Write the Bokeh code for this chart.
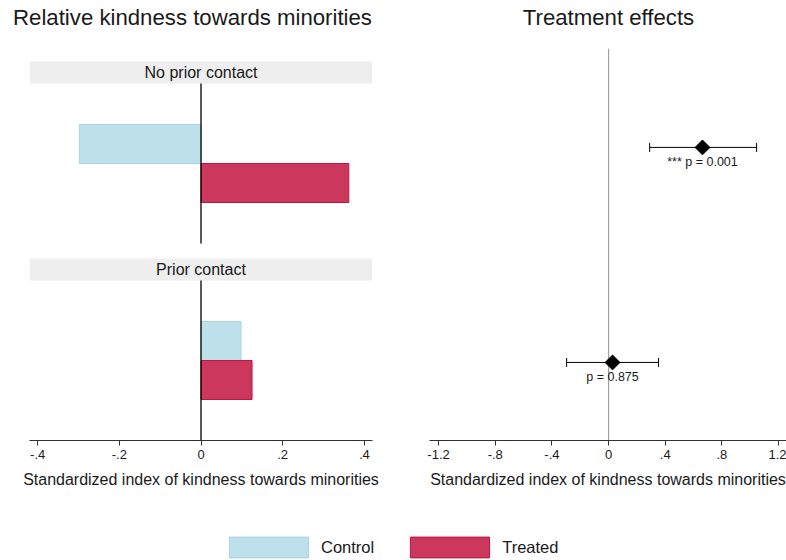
from bokeh.plotting import figure
from bokeh.layouts import column, row
from bokeh.models import (Range1d, FixedTicker, BoxAnnotation, Label, Whisker,
                          ColumnDataSource, Legend, LegendItem, TeeHead)
from bokeh.embed import file_html
from bokeh.resources import INLINE
from bokeh.core.properties import value

# ---------------- data ----------------
groups = ["No prior contact", "Prior contact"]
control_means = [-0.298, 0.098]
treated_means = [0.362, 0.125]
effects = [0.663, 0.028]
ci_low = [0.290, -0.296]
ci_high = [1.045, 0.353]
p_values = ["0.001", "0.875"]
stars = ["***", ""]
left_ticks = [-0.4, -0.2, 0, 0.2, 0.4]
left_tick_labels = ["-.4", "-.2", "0", ".2", ".4"]
right_ticks = [-1.2, -0.8, -0.4, 0, 0.4, 0.8, 1.2]
right_tick_labels = ["-1.2", "-.8", "-.4", "0", ".4", ".8", "1.2"]
series = ["Control", "Treated"]
titles = ["Relative kindness towards minorities", "Treatment effects"]

# ---------------- style ----------------
FONT = "Liberation Sans"
TXT = "#1a1a1a"
CTRL_FILL, CTRL_LINE = "#bde0ea", "#a6d4e3"
TRT_FILL, TRT_LINE = "#cc385d", "#c0163f"
AXIS_COL = "#333333"
XLABEL = "Standardized index of kindness towards minorities"

# panel layout (left chart, y units)
panel_centers = [6.925, 2.0]
panel_half = 2.0
strip_h = 0.55
bar_h = 0.975
L_YMAX = 9.8
R_YMIN, R_YMAX = 0.637, 2.46


def style_axis(p, ticks, labels):
    p.xaxis.ticker = FixedTicker(ticks=ticks)
    p.xaxis.major_label_overrides = {t: l for t, l in zip(ticks, labels)}
    p.xaxis.minor_tick_line_color = None
    p.xaxis.major_tick_in = 0
    p.xaxis.major_tick_out = 5
    p.xaxis.axis_line_color = AXIS_COL
    p.xaxis.major_tick_line_color = AXIS_COL
    p.xaxis.major_label_text_font = FONT
    p.xaxis.major_label_text_font_size = "13px"
    p.xaxis.major_label_text_color = TXT
    p.xaxis.major_label_standoff = 4
    p.xaxis.axis_label = XLABEL
    p.xaxis.axis_label_text_font = FONT
    p.xaxis.axis_label_text_font_size = "16px"
    p.xaxis.axis_label_text_font_style = "normal"
    p.xaxis.axis_label_text_color = TXT
    p.xaxis.axis_label_standoff = 9
    p.yaxis.visible = False
    p.xgrid.visible = False
    p.ygrid.visible = False
    p.outline_line_color = None


# ---------------- header with titles ----------------
head = figure(width=786, height=40, output_backend="svg", toolbar_location=None,
              x_range=Range1d(0, 786), y_range=Range1d(0, 40), title=None,
              min_border_left=0, min_border_right=0, min_border_top=0, min_border_bottom=0)
head.axis.visible = False
head.grid.visible = False
head.outline_line_color = None
for t, x in zip(titles, [192, 608]):
    head.add_layout(Label(x=x, y=23, text=t, text_align="center", text_baseline="middle",
                          text_font=FONT, text_font_size="22.2px", text_color=TXT))

# ---------------- left: bars ----------------
left = figure(width=400, height=460, output_backend="svg", toolbar_location=None,
              x_range=Range1d(-0.42, 0.42), y_range=Range1d(0, L_YMAX), title=None,
              min_border_left=29, min_border_right=28, min_border_top=8,
              min_border_bottom=60)
style_axis(left, left_ticks, left_tick_labels)

for c, g in zip(panel_centers, groups):
    left.add_layout(BoxAnnotation(bottom=c + panel_half, top=c + panel_half + strip_h,
                                  fill_color="#eeeeee", fill_alpha=1, line_color=None,
                                  level="underlay"))
    left.add_layout(Label(x=0, y=c + panel_half + strip_h / 2, text=g,
                          text_align="center", text_baseline="middle",
                          text_font=FONT, text_font_size="16px", text_color=TXT))

src_c = ColumnDataSource(dict(y=[c + bar_h / 2 for c in panel_centers], right=control_means))
src_t = ColumnDataSource(dict(y=[c - bar_h / 2 for c in panel_centers], right=treated_means))
left.hbar(y="y", left=0, right="right", height=bar_h, source=src_c,
          fill_color=CTRL_FILL, line_color=CTRL_LINE, line_width=1)
left.hbar(y="y", left=0, right="right", height=bar_h, source=src_t,
          fill_color=TRT_FILL, line_color=TRT_LINE, line_width=1)
left.segment(x0=[0] * len(panel_centers), x1=[0] * len(panel_centers),
             y0=[c - panel_half for c in panel_centers],
             y1=[c + panel_half for c in panel_centers],
             line_color="black", line_width=1.3)

# ---------------- right: treatment effects ----------------
ypos = [2, 1]
right = figure(width=386, height=460, output_backend="svg", toolbar_location=None,
               x_range=Range1d(-1.264, 1.256), y_range=Range1d(R_YMIN, R_YMAX), title=None,
               min_border_left=29, min_border_right=0, min_border_top=8,
               min_border_bottom=60)
style_axis(right, right_ticks, right_tick_labels)

right.segment(x0=[0], x1=[0], y0=[R_YMIN], y1=[R_YMAX], line_color="#a0a0a0", line_width=1.2)
src_e = ColumnDataSource(dict(y=ypos, x=effects, lo=ci_low, hi=ci_high,
                              lab=[(s + " p = " + pv).strip() for s, pv in zip(stars, p_values)]))
right.add_layout(Whisker(base="y", lower="lo", upper="hi", dimension="width", source=src_e,
                         line_color="black", line_width=1,
                         lower_head=TeeHead(size=9, line_color="black", line_width=1),
                         upper_head=TeeHead(size=9, line_color="black", line_width=1)))
right.scatter(x="x", y="y", source=src_e, marker="square", angle=0.785398, size=10.5,
              fill_color="black", line_color="black")
right.text(x="x", y="y", text="lab", source=src_e, y_offset=15, text_align="center",
           text_baseline="middle", text_font=value(FONT), text_font_size="12.5px",
           text_color=TXT)

# ---------------- legend ----------------
leg = figure(width=786, height=60, output_backend="svg", toolbar_location=None,
             x_range=Range1d(0, 1), y_range=Range1d(-1, 0), title=None,
             min_border_left=0, min_border_right=0, min_border_top=0, min_border_bottom=0)
leg.axis.visible = False
leg.grid.visible = False
leg.outline_line_color = None
r1 = leg.hbar(y="y", left=0, right="right", height=bar_h, source=src_c,
              fill_color=CTRL_FILL, line_color=CTRL_LINE, visible=False)
r2 = leg.hbar(y="y", left=0, right="right", height=bar_h, source=src_t,
              fill_color=TRT_FILL, line_color=TRT_LINE, visible=False)
legend = Legend(items=[LegendItem(label=series[0], renderers=[r1]),
                       LegendItem(label=series[1], renderers=[r2])],
                orientation="horizontal", location=(219, 0), glyph_width=99,
                glyph_height=26, label_standoff=3, spacing=26, padding=0, margin=0,
                border_line_color=None, background_fill_alpha=0,
                inactive_fill_alpha=0, click_policy="none",
                label_text_font=FONT, label_text_font_size="16.5px", label_text_color=TXT,
                label_height=26)
leg.add_layout(legend)

layout = column(head, row(left, right, spacing=0), leg, spacing=0)
open("out.html", "w").write(file_html(layout, INLINE))
